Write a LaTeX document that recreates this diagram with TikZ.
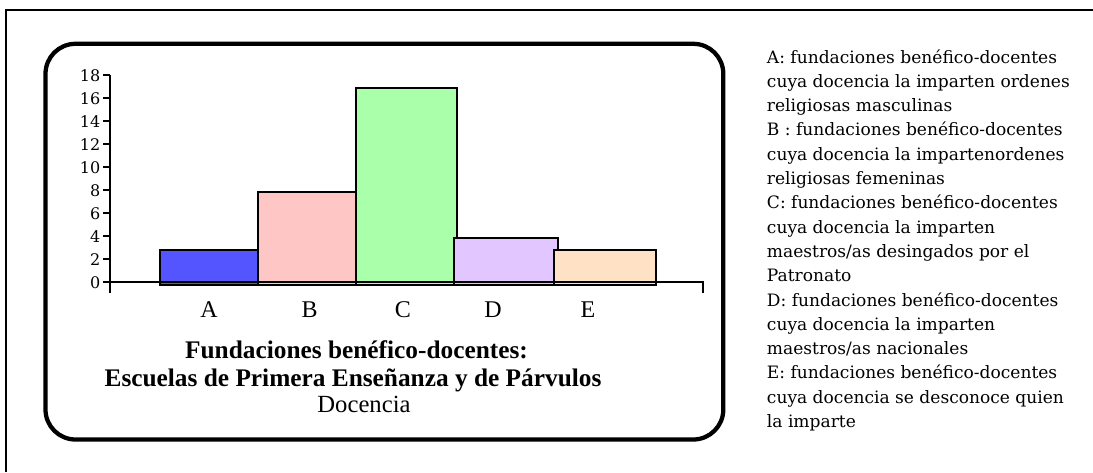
\documentclass[tikz,border=0pt]{standalone}
\usepackage{fontspec}
\setmainfont{Liberation Serif}
\newfontfamily\legfont{DejaVu Serif}
\definecolor{barA}{RGB}{85,85,255}
\definecolor{barB}{RGB}{255,198,198}
\definecolor{barC}{RGB}{170,255,170}
\definecolor{barD}{RGB}{226,198,255}
\definecolor{barE}{RGB}{255,226,198}
\tikzset{
  frameline/.style={line width=1.2pt},
  panel/.style={line width=3.2pt, rounded corners=22.5pt},
  barbox/.style={draw=black, line width=1.5pt},
  axisline/.style={line width=1.2pt},
  ticklabel/.style={anchor=east, inner sep=0pt, font=\legfont\fontsize{12}{14}\selectfont},
  catlabel/.style={anchor=base, inner sep=0pt, font=\fontsize{18}{21}\selectfont},
  titletext/.style={anchor=base, inner sep=0pt, font=\bfseries\fontsize{19}{22}\selectfont},
  subtitle/.style={anchor=base, inner sep=0pt, font=\fontsize{18.5}{22}\selectfont},
  legendline/.style={anchor=base west, inner sep=0pt, font=\legfont\fontsize{12.8}{15}\selectfont}
}
\begin{document}
\begin{tikzpicture}[x=0.75pt,y=-0.75pt]
\useasboundingbox (0,0) rectangle (1093,472);
\fill[white] (0,0) rectangle (1093,472);
% outer frame (clipped at right and bottom)
\draw[frameline] (6,472) -- (6,10) -- (1093,10);
% rounded panel
\draw[panel] (45.5,43.8) rectangle (723.3,439.5);
% bars
\path[barbox, fill=barA] (160,285) rectangle (257.7,250.1);
\path[barbox, fill=barB] (257.7,285) rectangle (355.8,192.0);
\path[barbox, fill=barC] (356,285) rectangle (456.7,87.5);
\path[barbox, fill=barD] (454,285) rectangle (558,238.0);
\path[barbox, fill=barE] (554.3,285) rectangle (656,249.5);
% axes
\draw[axisline] (110,75) -- (110,293);
\draw[axisline] (103,281.7) -- (702.7,281.7) -- (702.7,293);
\foreach \v in {0,2,...,18} {
  \draw[axisline] (103,{281.7-\v*11.48}) -- (110,{281.7-\v*11.48});
  \node[ticklabel] (tick\v) at (100.5,{282.5-\v*11.48}) {\v};
}
% category labels
\node[catlabel] (cA) at (209,317.7) {A};
\node[catlabel] (cB) at (309.7,317.7) {B};
\node[catlabel] (cC) at (403,317.7) {C};
\node[catlabel] (cD) at (493,317.7) {D};
\node[catlabel] (cE) at (588,317.7) {E};
% titles
\node[titletext] (title1) at (356.5,358.3) {Fundaciones benéfico-docentes:};
\node[titletext] (title2) at (353,386.7) {Escuelas de Primera Enseñanza y de Párvulos};
\node[subtitle] (title3) at (364,412.7) {Docencia};
% legend
\foreach \txt [count=\k from 0] in {
  A: fundaciones benéfico-docentes,
  cuya docencia la imparten ordenes,
  religiosas masculinas,
  B : fundaciones benéfico-docentes,
  cuya docencia la impartenordenes,
  religiosas femeninas,
  C: fundaciones benéfico-docentes,
  cuya docencia la imparten,
  maestros/as desingados por el,
  Patronato,
  D: fundaciones benéfico-docentes,
  cuya docencia la imparten,
  maestros/as nacionales,
  E: fundaciones benéfico-docentes,
  cuya docencia se desconoce quien,
  la imparte} {
  \node[legendline] (leg\k) at (766.7,{63+24.3*\k}) {\txt};
}
\end{tikzpicture}
\end{document}
